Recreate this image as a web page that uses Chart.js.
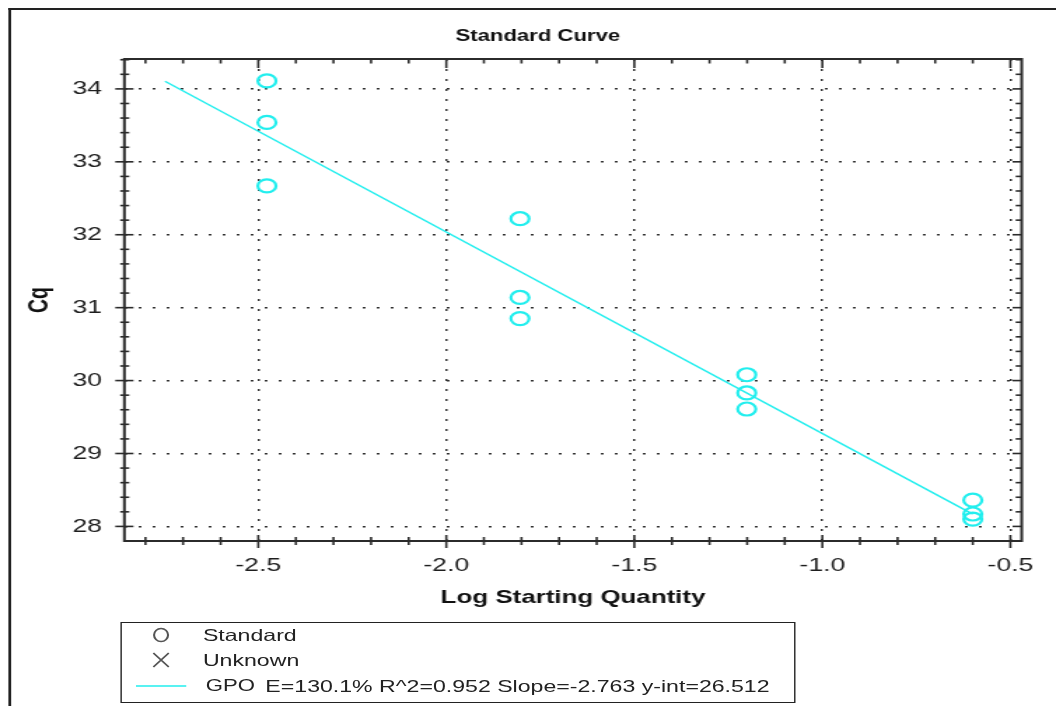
<!DOCTYPE html>
<html>
<head>
<meta charset="utf-8">
<title>Standard Curve</title>
<script src="https://cdn.jsdelivr.net/npm/chart.js@4.4.1/dist/chart.umd.min.js"></script>
<style>
  html, body { margin: 0; padding: 0; background: #fff; overflow: hidden; }
  /* the instrument export is wider than tall, so the whole panel is stretched sideways */
  #stage { position: absolute; left: 0; top: 0; width: 754px; height: 706px; transform: scaleX(1.4005); transform-origin: 0 0; }
  #frame { position: absolute; left: 6px; top: 8px; width: 780px; height: 720px; border-left: 2px solid #222; border-top: 2px solid #222; }
  #plot-box { position: absolute; left: 0; top: 0; width: 754px; height: 706px; }
  #curve-legend { position: absolute; left: 85.7px; top: 622px; width: 480px; height: 79px; border: 1.5px solid #222; font-family: "Liberation Sans", Arial, sans-serif; color: #222; }
  #curve-legend .item { position: absolute; left: 0; height: 24px; line-height: 24px; white-space: nowrap; }
  #curve-legend svg { position: absolute; top: 0; }
  #curve-legend .name { position: absolute; font-size: 16.5px; }
</style>
</head>
<body>
<div id="stage">
  <div id="frame"></div>
  <div id="plot-box"><canvas id="standard-curve"></canvas></div>
  <div id="curve-legend"></div>
</div>
<script>
const standardLogQty = [-2.477, -2.477, -2.477, -1.804, -1.804, -1.804, -1.201, -1.201, -1.201, -0.600, -0.600, -0.600];
const standardCq = [34.11, 33.54, 32.67, 32.22, 31.14, 30.85, 30.08, 29.83, 29.61, 28.36, 28.17, 28.10];

const fitName = 'GPO';
const fitEfficiency = 130.1;
const fitR2 = 0.952;
const fitSlope = -2.763;
const fitIntercept = 26.512;
const fitRange = [-2.748, -0.600];

const xTickValues = [-2.5, -2.0, -1.5, -1.0, -0.5];
const yTickValues = [28, 29, 30, 31, 32, 33, 34];

const chartTitle = 'Standard Curve';
const CYAN = '#22eeee';
const INK = '#1e1e1e';

Chart.defaults.font.family = '"Liberation Sans", Arial, sans-serif';
Chart.defaults.color = INK;

// tick marks cross the frame, so they are drawn here instead of by the scales;
// the heading sits a little right of the canvas middle, so it is drawn here too
const axisFrame = {
  id: 'axisFrame',
  afterDraw(chart) {
    const { ctx, chartArea: area, scales } = chart;
    const mark = (x1, y1, x2, y2) => {
      ctx.beginPath();
      ctx.moveTo(x1, y1);
      ctx.lineTo(x2, y2);
      ctx.stroke();
    };
    ctx.save();
    ctx.strokeStyle = '#2b2b2b';
    ctx.lineWidth = 1.6;
    for (let i = -28; i <= -5; i++) {
      const px = scales.x.getPixelForValue(i / 10);
      const major = i % 5 === 0;
      mark(px, area.bottom - (major ? 6 : 4), px, area.bottom + (major ? 7 : 4));
      mark(px, area.top, px, area.top + (major ? 9 : 4.5));
    }
    for (let i = 140; i <= 172; i++) {
      const py = scales.y.getPixelForValue(i / 5);
      const major = i % 5 === 0;
      mark(area.left - (major ? 6.5 : 3), py, area.left + (major ? 6.5 : 3.5), py);
      mark(area.right - (major ? 6.5 : 4.3), py, area.right, py);
    }
    ctx.lineWidth = 2;
    ctx.strokeRect(area.left, area.top, area.right - area.left, area.bottom - area.top);

    ctx.fillStyle = '#111';
    ctx.font = `bold 15.8px ${Chart.defaults.font.family}`;
    ctx.textAlign = 'center';
    ctx.textBaseline = 'middle';
    ctx.fillText(chartTitle, 384, 37);
    ctx.restore();
  },
};

const standardPoints = standardLogQty.map((x, i) => ({ x, y: standardCq[i] }));
const fitPoints = fitRange.map((x) => ({ x, y: fitSlope * x + fitIntercept }));

new Chart(document.getElementById('standard-curve'), {
  type: 'scatter',
  data: {
    datasets: [
      {
        label: 'Standard',
        data: standardPoints,
        pointStyle: 'circle',
        pointRadius: 6.5,
        borderColor: CYAN,
        borderWidth: 2.2,
        backgroundColor: 'rgba(0,0,0,0)',
      },
      {
        type: 'line',
        label: fitName,
        data: fitPoints,
        borderColor: CYAN,
        borderWidth: 1.5,
        pointRadius: 0,
        fill: false,
      },
    ],
  },
  options: {
    responsive: true,
    maintainAspectRatio: false,
    animation: false,
    layout: { padding: { left: 0, right: 24.5, top: 59, bottom: 85 } },
    plugins: {
      legend: { display: false },
      tooltip: { enabled: false },
      title: { display: false },
    },
    scales: {
      x: {
        type: 'linear',
        min: -2.856,
        max: -0.47,
        afterFit: (scale) => { scale.height = 80; },
        afterBuildTicks: (scale) => { scale.ticks = xTickValues.map((value) => ({ value })); },
        ticks: {
          padding: 13,
          font: { size: 19 },
          color: INK,
          callback: (value) => Number(value).toFixed(1),
        },
        grid: { drawTicks: false, color: '#333', lineWidth: 1.5 },
        border: { display: false, dash: [2, 8] },
        title: {
          display: true,
          text: 'Log Starting Quantity',
          color: '#111',
          font: { size: 18.5, weight: 'bold' },
          padding: { top: 0, bottom: 12 },
        },
      },
      y: {
        type: 'linear',
        min: 27.8,
        max: 34.41,
        afterFit: (scale) => { scale.width = 88.8; },
        afterBuildTicks: (scale) => { scale.ticks = yTickValues.map((value) => ({ value })); },
        ticks: {
          padding: 16,
          font: { size: 19 },
          color: INK,
          callback: (value) => Number(value).toFixed(0),
        },
        grid: { drawTicks: false, color: '#333', lineWidth: 1.5 },
        border: { display: false, dash: [2, 8] },
        title: {
          display: true,
          text: 'Cq',
          color: '#111',
          font: { size: 19.5, weight: 'bold' },
          padding: { top: 17, bottom: 0 },
        },
      },
    },
  },
  plugins: [axisFrame],
});

// legend box under the plot
function renderCurveLegend() {
  const box = document.getElementById('curve-legend');
  const stats = `E=${fitEfficiency.toFixed(1)}% R^2=${fitR2.toFixed(3)} Slope=${fitSlope.toFixed(3)} y-int=${fitIntercept.toFixed(3)}`;
  const rows = [
    {
      top: 0,
      marker: '<svg width="20" height="24" style="left:18.5px"><ellipse cx="10" cy="12" rx="5" ry="6.5" fill="none" stroke="#555" stroke-width="1.5"/></svg>',
      html: '<span class="name" style="left:58.2px">Standard</span>',
    },
    {
      top: 25,
      marker: '<svg width="20" height="24" style="left:18.5px"><path d="M4.5 5 L15.5 19 M15.5 5 L4.5 19" stroke="#555" stroke-width="1.3" fill="none"/></svg>',
      html: '<span class="name" style="left:58.2px">Unknown</span>',
    },
    {
      top: 51,
      marker: `<svg width="40" height="24" style="left:10.7px"><line x1="0" y1="12" x2="36" y2="12" stroke="${CYAN}" stroke-width="1.5"/></svg>`,
      html: `<span class="name" style="left:60.3px;font-size:15.8px">${fitName}</span><span class="name" style="left:102.8px">${stats}</span>`,
    },
  ];
  rows.forEach((row) => {
    const item = document.createElement('div');
    item.className = 'item';
    item.style.top = `${row.top}px`;
    item.style.width = '100%';
    item.innerHTML = row.marker + row.html;
    box.append(item);
  });
}

renderCurveLegend();
</script>
</body>
</html>
